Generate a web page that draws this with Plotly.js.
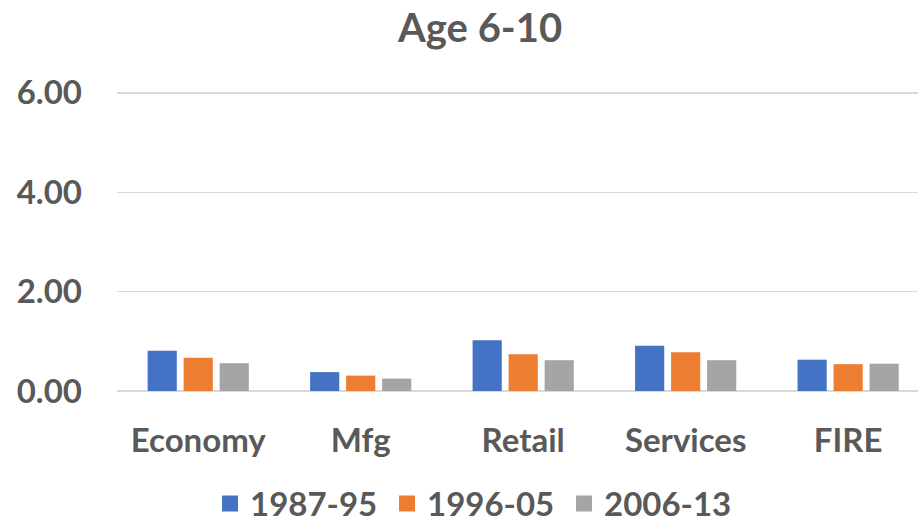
<!DOCTYPE html>
<html>
<head>
<meta charset="utf-8">
<script src="https://cdn.plot.ly/plotly-3.0.1.min.js"></script>
<style>html,body{margin:0;padding:0;background:#fff;}#chart{width:918px;height:522px;}</style>
</head>
<body>
<div id="chart"></div>
<script>
const categories = ["Economy", "Mfg", "Retail", "Services", "FIRE"];
const seriesNames = ["1987-95", "1996-05", "2006-13"];
const values1987 = [0.81, 0.38, 1.02, 0.91, 0.63];
const values1996 = [0.67, 0.31, 0.74, 0.78, 0.54];
const values2006 = [0.56, 0.25, 0.62, 0.62, 0.55];
const yTickVals = [0, 2, 4, 6];
const yTickText = ["0.00", "2.00", "4.00", "6.00"];

const colors = ["#4472C4", "#ED7D31", "#A5A5A5"];
const allValues = [values1987, values1996, values2006];
const textColor = "#595959";
const fontFam = "Lato, 'Open Sans', sans-serif";

const barTraces = allValues.map((v, i) => ({
  type: "bar",
  name: seriesNames[i],
  legendgroup: seriesNames[i],
  showlegend: false,
  x: categories,
  y: v,
  marker: {color: colors[i]},
  hoverinfo: "x+y+name"
}));
// legend entries (larger square keys, as in the original)
const legendTraces = seriesNames.map((n, i) => ({
  type: "scatter",
  mode: "markers",
  name: n,
  legendgroup: n,
  x: [null], y: [null],
  marker: {symbol: "square", size: 16, color: colors[i]},
  hoverinfo: "skip"
}));

const layout = {
  width: 918, height: 522,
  paper_bgcolor: "#fff", plot_bgcolor: "#fff",
  margin: {l: 117, r: 0, t: 78, b: 131, pad: 0, autoexpand: false},
  font: {family: fontFam, color: textColor, weight: 700},
  title: {text: "Age 6-10", x: 0.523, xanchor: "center", y: 0.947, yanchor: "middle",
          font: {family: fontFam, size: 40, color: textColor, weight: 700}},
  barmode: "group",
  bargap: 0.335,
  bargroupgap: 0.19,
  xaxis: {
    type: "category",
    range: [-0.5, 4.43],
    showgrid: false, zeroline: false, showline: false,
    ticks: "", ticklabelstandoff: 27, automargin: false,
    tickfont: {family: fontFam, size: 33, color: textColor, weight: 700}
  },
  yaxis: {
    range: [0, 6.3],
    tickvals: yTickVals, ticktext: yTickText,
    showgrid: true, gridcolor: "#D9D9D9", gridwidth: 1.4,
    zeroline: true, zerolinecolor: "#D9D9D9", zerolinewidth: 2,
    showline: false, ticks: "", ticklabelstandoff: 34, automargin: false,
    tickfont: {family: fontFam, size: 33, color: textColor, weight: 700}
  },
  showlegend: true,
  legend: {
    orientation: "h",
    x: 0.4476, xanchor: "center", y: -0.27, yanchor: "top",
    font: {family: fontFam, size: 33, color: textColor, weight: 700},
    itemwidth: 30, tracegroupgap: 0, entrywidth: 132
  }
};

Plotly.newPlot("chart", barTraces.concat(legendTraces), layout, {displayModeBar: false, staticPlot: true});
</script>
</body>
</html>
